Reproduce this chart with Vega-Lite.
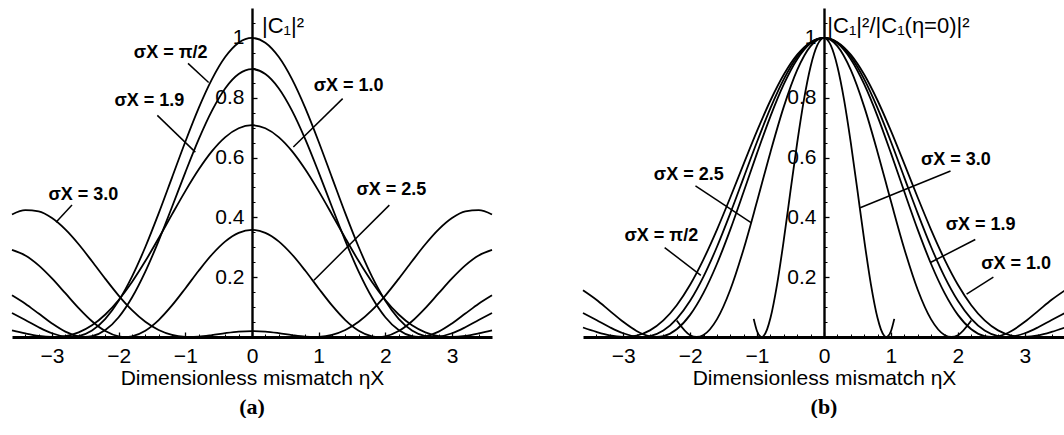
{
  "$schema": "https://vega.github.io/schema/vega-lite/v6.json",
  "background": "white",
  "padding": {"left": 8, "top": 8, "right": 0, "bottom": 0},
  "config": {
    "view": {"stroke": null},
    "font": "Liberation Sans",
    "axis": {"grid": false, "domainColor": "black", "tickColor": "black", "labelColor": "black", "titleColor": "black", "labelFont": "Liberation Sans", "titleFont": "Liberation Sans"}
  },
  "datasets": {
    "curvesA": [
      {"s":"1.0","e":-3.6,"p":0.0225},{"s":"1.0","e":-3.4,"p":0.0122},{"s":"1.0","e":-3.2,"p":0.0039},{"s":"1.0","e":-3.0,"p":0.00004},{"s":"1.0","e":-2.978,"p":0},{"s":"1.0","e":-2.8,"p":0.0032},{"s":"1.0","e":-2.6,"p":0.0157},{"s":"1.0","e":-2.4,"p":0.0393},{"s":"1.0","e":-2.2,"p":0.0753},{"s":"1.0","e":-2.0,"p":0.1238},{"s":"1.0","e":-1.8,"p":0.1839},{"s":"1.0","e":-1.6,"p":0.2538},{"s":"1.0","e":-1.4,"p":0.3303},{"s":"1.0","e":-1.2,"p":0.4098},{"s":"1.0","e":-1.0,"p":0.4878},{"s":"1.0","e":-0.8,"p":0.5598},{"s":"1.0","e":-0.6,"p":0.6214},{"s":"1.0","e":-0.4,"p":0.6684},{"s":"1.0","e":-0.2,"p":0.6980},
      {"s":"1.0","e":0,"p":0.7081},
      {"s":"1.0","e":0.2,"p":0.6980},{"s":"1.0","e":0.4,"p":0.6684},{"s":"1.0","e":0.6,"p":0.6214},{"s":"1.0","e":0.8,"p":0.5598},{"s":"1.0","e":1.0,"p":0.4878},{"s":"1.0","e":1.2,"p":0.4098},{"s":"1.0","e":1.4,"p":0.3303},{"s":"1.0","e":1.6,"p":0.2538},{"s":"1.0","e":1.8,"p":0.1839},{"s":"1.0","e":2.0,"p":0.1238},{"s":"1.0","e":2.2,"p":0.0753},{"s":"1.0","e":2.4,"p":0.0393},{"s":"1.0","e":2.6,"p":0.0157},{"s":"1.0","e":2.8,"p":0.0032},{"s":"1.0","e":2.978,"p":0},{"s":"1.0","e":3.0,"p":0.00004},{"s":"1.0","e":3.2,"p":0.0039},{"s":"1.0","e":3.4,"p":0.0122},{"s":"1.0","e":3.6,"p":0.0225},

      {"s":"π/2","e":-3.6,"p":0.0801},{"s":"π/2","e":-3.4,"p":0.0567},{"s":"π/2","e":-3.2,"p":0.0327},{"s":"π/2","e":-3.0,"p":0.0126},{"s":"π/2","e":-2.8,"p":0.0011},{"s":"π/2","e":-2.721,"p":0},{"s":"π/2","e":-2.6,"p":0.0029},{"s":"π/2","e":-2.4,"p":0.0218},{"s":"π/2","e":-2.2,"p":0.0608},{"s":"π/2","e":-2.0,"p":0.1211},{"s":"π/2","e":-1.8,"p":0.2020},{"s":"π/2","e":-1.6,"p":0.3009},{"s":"π/2","e":-1.4,"p":0.4133},{"s":"π/2","e":-1.2,"p":0.5330},{"s":"π/2","e":-1.0,"p":0.6529},{"s":"π/2","e":-0.8,"p":0.7651},{"s":"π/2","e":-0.6,"p":0.8620},{"s":"π/2","e":-0.4,"p":0.9367},{"s":"π/2","e":-0.2,"p":0.9839},
      {"s":"π/2","e":0,"p":1.0},
      {"s":"π/2","e":0.2,"p":0.9839},{"s":"π/2","e":0.4,"p":0.9367},{"s":"π/2","e":0.6,"p":0.8620},{"s":"π/2","e":0.8,"p":0.7651},{"s":"π/2","e":1.0,"p":0.6529},{"s":"π/2","e":1.2,"p":0.5330},{"s":"π/2","e":1.4,"p":0.4133},{"s":"π/2","e":1.6,"p":0.3009},{"s":"π/2","e":1.8,"p":0.2020},{"s":"π/2","e":2.0,"p":0.1211},{"s":"π/2","e":2.2,"p":0.0608},{"s":"π/2","e":2.4,"p":0.0218},{"s":"π/2","e":2.6,"p":0.0029},{"s":"π/2","e":2.721,"p":0},{"s":"π/2","e":2.8,"p":0.0011},{"s":"π/2","e":3.0,"p":0.0126},{"s":"π/2","e":3.2,"p":0.0327},{"s":"π/2","e":3.4,"p":0.0567},{"s":"π/2","e":3.6,"p":0.0801},

      {"s":"1.9","e":-3.6,"p":0.1398},{"s":"1.9","e":-3.4,"p":0.1114},{"s":"1.9","e":-3.2,"p":0.0783},{"s":"1.9","e":-3.0,"p":0.0454},{"s":"1.9","e":-2.8,"p":0.0181},{"s":"1.9","e":-2.6,"p":0.0022},{"s":"1.9","e":-2.502,"p":0},{"s":"1.9","e":-2.4,"p":0.0025},{"s":"1.9","e":-2.2,"p":0.0231},{"s":"1.9","e":-2.0,"p":0.0662},{"s":"1.9","e":-1.8,"p":0.1321},{"s":"1.9","e":-1.6,"p":0.2186},{"s":"1.9","e":-1.4,"p":0.3216},{"s":"1.9","e":-1.2,"p":0.4347},{"s":"1.9","e":-1.0,"p":0.5506},{"s":"1.9","e":-0.8,"p":0.6608},{"s":"1.9","e":-0.6,"p":0.7570},{"s":"1.9","e":-0.4,"p":0.8318},{"s":"1.9","e":-0.2,"p":0.8792},
      {"s":"1.9","e":0,"p":0.8955},
      {"s":"1.9","e":0.2,"p":0.8792},{"s":"1.9","e":0.4,"p":0.8318},{"s":"1.9","e":0.6,"p":0.7570},{"s":"1.9","e":0.8,"p":0.6608},{"s":"1.9","e":1.0,"p":0.5506},{"s":"1.9","e":1.2,"p":0.4347},{"s":"1.9","e":1.4,"p":0.3216},{"s":"1.9","e":1.6,"p":0.2186},{"s":"1.9","e":1.8,"p":0.1321},{"s":"1.9","e":2.0,"p":0.0662},{"s":"1.9","e":2.2,"p":0.0231},{"s":"1.9","e":2.4,"p":0.0025},{"s":"1.9","e":2.502,"p":0},{"s":"1.9","e":2.6,"p":0.0022},{"s":"1.9","e":2.8,"p":0.0181},{"s":"1.9","e":3.0,"p":0.0454},{"s":"1.9","e":3.2,"p":0.0783},{"s":"1.9","e":3.4,"p":0.1114},{"s":"1.9","e":3.6,"p":0.1398},

      {"s":"2.5","e":-3.6,"p":0.2913},{"s":"2.5","e":-3.4,"p":0.2726},{"s":"2.5","e":-3.2,"p":0.2396},{"s":"2.5","e":-3.0,"p":0.1960},{"s":"2.5","e":-2.8,"p":0.1464},{"s":"2.5","e":-2.6,"p":0.0967},{"s":"2.5","e":-2.4,"p":0.0527},{"s":"2.5","e":-2.2,"p":0.0198},{"s":"2.5","e":-2.0,"p":0.0022},{"s":"2.5","e":-1.903,"p":0},{"s":"2.5","e":-1.8,"p":0.0024},{"s":"2.5","e":-1.6,"p":0.0211},{"s":"2.5","e":-1.4,"p":0.0566},{"s":"2.5","e":-1.2,"p":0.1055},{"s":"2.5","e":-1.0,"p":0.1624},{"s":"2.5","e":-0.8,"p":0.2214},{"s":"2.5","e":-0.6,"p":0.2759},{"s":"2.5","e":-0.4,"p":0.3198},{"s":"2.5","e":-0.2,"p":0.3483},
      {"s":"2.5","e":0,"p":0.3582},
      {"s":"2.5","e":0.2,"p":0.3483},{"s":"2.5","e":0.4,"p":0.3198},{"s":"2.5","e":0.6,"p":0.2759},{"s":"2.5","e":0.8,"p":0.2214},{"s":"2.5","e":1.0,"p":0.1624},{"s":"2.5","e":1.2,"p":0.1055},{"s":"2.5","e":1.4,"p":0.0566},{"s":"2.5","e":1.6,"p":0.0211},{"s":"2.5","e":1.8,"p":0.0024},{"s":"2.5","e":1.903,"p":0},{"s":"2.5","e":2.0,"p":0.0022},{"s":"2.5","e":2.2,"p":0.0198},{"s":"2.5","e":2.4,"p":0.0527},{"s":"2.5","e":2.6,"p":0.0967},{"s":"2.5","e":2.8,"p":0.1464},{"s":"2.5","e":3.0,"p":0.1960},{"s":"2.5","e":3.2,"p":0.2396},{"s":"2.5","e":3.4,"p":0.2726},{"s":"2.5","e":3.6,"p":0.2913},

      {"s":"3.0","e":-3.6,"p":0.4096},{"s":"3.0","e":-3.4,"p":0.4240},{"s":"3.0","e":-3.2,"p":0.4198},{"s":"3.0","e":-3.0,"p":0.3976},{"s":"3.0","e":-2.8,"p":0.3597},{"s":"3.0","e":-2.6,"p":0.3100},{"s":"3.0","e":-2.4,"p":0.2532},{"s":"3.0","e":-2.2,"p":0.1945},{"s":"3.0","e":-2.0,"p":0.1386},{"s":"3.0","e":-1.8,"p":0.0898},{"s":"3.0","e":-1.6,"p":0.0508},{"s":"3.0","e":-1.4,"p":0.0232},{"s":"3.0","e":-1.2,"p":0.0069},{"s":"3.0","e":-1.0,"p":0.0004},{"s":"3.0","e":-0.933,"p":0},{"s":"3.0","e":-0.8,"p":0.0013},{"s":"3.0","e":-0.6,"p":0.0065},{"s":"3.0","e":-0.4,"p":0.0129},{"s":"3.0","e":-0.2,"p":0.0180},
      {"s":"3.0","e":0,"p":0.0199},
      {"s":"3.0","e":0.2,"p":0.0180},{"s":"3.0","e":0.4,"p":0.0129},{"s":"3.0","e":0.6,"p":0.0065},{"s":"3.0","e":0.8,"p":0.0013},{"s":"3.0","e":0.933,"p":0},{"s":"3.0","e":1.0,"p":0.0004},{"s":"3.0","e":1.2,"p":0.0069},{"s":"3.0","e":1.4,"p":0.0232},{"s":"3.0","e":1.6,"p":0.0508},{"s":"3.0","e":1.8,"p":0.0898},{"s":"3.0","e":2.0,"p":0.1386},{"s":"3.0","e":2.2,"p":0.1945},{"s":"3.0","e":2.4,"p":0.2532},{"s":"3.0","e":2.6,"p":0.3100},{"s":"3.0","e":2.8,"p":0.3597},{"s":"3.0","e":3.0,"p":0.3976},{"s":"3.0","e":3.2,"p":0.4198},{"s":"3.0","e":3.4,"p":0.4240},{"s":"3.0","e":3.6,"p":0.4096}
    ],
    "curvesB": [
      {"s":"1.0","e":-3.6,"p":0.0318},{"s":"1.0","e":-3.4,"p":0.0172},{"s":"1.0","e":-3.2,"p":0.0055},{"s":"1.0","e":-3.0,"p":0.0001},{"s":"1.0","e":-2.978,"p":0},{"s":"1.0","e":-2.8,"p":0.0045},{"s":"1.0","e":-2.6,"p":0.0221},{"s":"1.0","e":-2.4,"p":0.0555},{"s":"1.0","e":-2.2,"p":0.1064},{"s":"1.0","e":-2.0,"p":0.1748},{"s":"1.0","e":-1.8,"p":0.2598},{"s":"1.0","e":-1.6,"p":0.3584},{"s":"1.0","e":-1.4,"p":0.4665},{"s":"1.0","e":-1.2,"p":0.5788},{"s":"1.0","e":-1.0,"p":0.6890},{"s":"1.0","e":-0.8,"p":0.7907},{"s":"1.0","e":-0.6,"p":0.8775},{"s":"1.0","e":-0.4,"p":0.9440},{"s":"1.0","e":-0.2,"p":0.9858},
      {"s":"1.0","e":0,"p":1.0},
      {"s":"1.0","e":0.2,"p":0.9858},{"s":"1.0","e":0.4,"p":0.9440},{"s":"1.0","e":0.6,"p":0.8775},{"s":"1.0","e":0.8,"p":0.7907},{"s":"1.0","e":1.0,"p":0.6890},{"s":"1.0","e":1.2,"p":0.5788},{"s":"1.0","e":1.4,"p":0.4665},{"s":"1.0","e":1.6,"p":0.3584},{"s":"1.0","e":1.8,"p":0.2598},{"s":"1.0","e":2.0,"p":0.1748},{"s":"1.0","e":2.2,"p":0.1064},{"s":"1.0","e":2.4,"p":0.0555},{"s":"1.0","e":2.6,"p":0.0221},{"s":"1.0","e":2.8,"p":0.0045},{"s":"1.0","e":2.978,"p":0},{"s":"1.0","e":3.0,"p":0.0001},{"s":"1.0","e":3.2,"p":0.0055},{"s":"1.0","e":3.4,"p":0.0172},{"s":"1.0","e":3.6,"p":0.0318},

      {"s":"π/2","e":-3.6,"p":0.0801},{"s":"π/2","e":-3.4,"p":0.0567},{"s":"π/2","e":-3.2,"p":0.0327},{"s":"π/2","e":-3.0,"p":0.0126},{"s":"π/2","e":-2.8,"p":0.0011},{"s":"π/2","e":-2.721,"p":0},{"s":"π/2","e":-2.6,"p":0.0029},{"s":"π/2","e":-2.4,"p":0.0218},{"s":"π/2","e":-2.2,"p":0.0608},{"s":"π/2","e":-2.0,"p":0.1211},{"s":"π/2","e":-1.8,"p":0.2020},{"s":"π/2","e":-1.6,"p":0.3009},{"s":"π/2","e":-1.4,"p":0.4133},{"s":"π/2","e":-1.2,"p":0.5330},{"s":"π/2","e":-1.0,"p":0.6529},{"s":"π/2","e":-0.8,"p":0.7651},{"s":"π/2","e":-0.6,"p":0.8620},{"s":"π/2","e":-0.4,"p":0.9367},{"s":"π/2","e":-0.2,"p":0.9839},
      {"s":"π/2","e":0,"p":1.0},
      {"s":"π/2","e":0.2,"p":0.9839},{"s":"π/2","e":0.4,"p":0.9367},{"s":"π/2","e":0.6,"p":0.8620},{"s":"π/2","e":0.8,"p":0.7651},{"s":"π/2","e":1.0,"p":0.6529},{"s":"π/2","e":1.2,"p":0.5330},{"s":"π/2","e":1.4,"p":0.4133},{"s":"π/2","e":1.6,"p":0.3009},{"s":"π/2","e":1.8,"p":0.2020},{"s":"π/2","e":2.0,"p":0.1211},{"s":"π/2","e":2.2,"p":0.0608},{"s":"π/2","e":2.4,"p":0.0218},{"s":"π/2","e":2.6,"p":0.0029},{"s":"π/2","e":2.721,"p":0},{"s":"π/2","e":2.8,"p":0.0011},{"s":"π/2","e":3.0,"p":0.0126},{"s":"π/2","e":3.2,"p":0.0327},{"s":"π/2","e":3.4,"p":0.0567},{"s":"π/2","e":3.6,"p":0.0801},

      {"s":"1.9","e":-3.6,"p":0.1561},{"s":"1.9","e":-3.4,"p":0.1244},{"s":"1.9","e":-3.2,"p":0.0874},{"s":"1.9","e":-3.0,"p":0.0507},{"s":"1.9","e":-2.8,"p":0.0203},{"s":"1.9","e":-2.6,"p":0.0024},{"s":"1.9","e":-2.502,"p":0},{"s":"1.9","e":-2.4,"p":0.0028},{"s":"1.9","e":-2.2,"p":0.0258},{"s":"1.9","e":-2.0,"p":0.0740},{"s":"1.9","e":-1.8,"p":0.1475},{"s":"1.9","e":-1.6,"p":0.2441},{"s":"1.9","e":-1.4,"p":0.3591},{"s":"1.9","e":-1.2,"p":0.4855},{"s":"1.9","e":-1.0,"p":0.6148},{"s":"1.9","e":-0.8,"p":0.7379},{"s":"1.9","e":-0.6,"p":0.8453},{"s":"1.9","e":-0.4,"p":0.9289},{"s":"1.9","e":-0.2,"p":0.9819},
      {"s":"1.9","e":0,"p":1.0},
      {"s":"1.9","e":0.2,"p":0.9819},{"s":"1.9","e":0.4,"p":0.9289},{"s":"1.9","e":0.6,"p":0.8453},{"s":"1.9","e":0.8,"p":0.7379},{"s":"1.9","e":1.0,"p":0.6148},{"s":"1.9","e":1.2,"p":0.4855},{"s":"1.9","e":1.4,"p":0.3591},{"s":"1.9","e":1.6,"p":0.2441},{"s":"1.9","e":1.8,"p":0.1475},{"s":"1.9","e":2.0,"p":0.0740},{"s":"1.9","e":2.2,"p":0.0258},{"s":"1.9","e":2.4,"p":0.0028},{"s":"1.9","e":2.502,"p":0},{"s":"1.9","e":2.6,"p":0.0024},{"s":"1.9","e":2.8,"p":0.0203},{"s":"1.9","e":3.0,"p":0.0507},{"s":"1.9","e":3.2,"p":0.0874},{"s":"1.9","e":3.4,"p":0.1244},{"s":"1.9","e":3.6,"p":0.1561},

      {"s":"2.5","e":-2.2,"p":0.0553},{"s":"2.5","e":-2.0,"p":0.0061},{"s":"2.5","e":-1.903,"p":0},{"s":"2.5","e":-1.8,"p":0.0068},{"s":"2.5","e":-1.6,"p":0.0590},{"s":"2.5","e":-1.4,"p":0.1581},{"s":"2.5","e":-1.2,"p":0.2944},{"s":"2.5","e":-1.0,"p":0.4535},{"s":"2.5","e":-0.8,"p":0.6181},{"s":"2.5","e":-0.6,"p":0.7702},{"s":"2.5","e":-0.4,"p":0.8929},{"s":"2.5","e":-0.2,"p":0.9724},
      {"s":"2.5","e":0,"p":1.0},
      {"s":"2.5","e":0.2,"p":0.9724},{"s":"2.5","e":0.4,"p":0.8929},{"s":"2.5","e":0.6,"p":0.7702},{"s":"2.5","e":0.8,"p":0.6181},{"s":"2.5","e":1.0,"p":0.4535},{"s":"2.5","e":1.2,"p":0.2944},{"s":"2.5","e":1.4,"p":0.1581},{"s":"2.5","e":1.6,"p":0.0590},{"s":"2.5","e":1.8,"p":0.0068},{"s":"2.5","e":1.903,"p":0},{"s":"2.5","e":2.0,"p":0.0061},{"s":"2.5","e":2.2,"p":0.0553},

      {"s":"3.0","e":-1.05,"p":0.0606},{"s":"3.0","e":-1.0,"p":0.0193},{"s":"3.0","e":-0.95,"p":0.0013},{"s":"3.0","e":-0.933,"p":0},{"s":"3.0","e":-0.9,"p":0.0042},{"s":"3.0","e":-0.85,"p":0.0257},{"s":"3.0","e":-0.8,"p":0.0633},{"s":"3.0","e":-0.7,"p":0.1770},{"s":"3.0","e":-0.6,"p":0.3254},{"s":"3.0","e":-0.5,"p":0.4890},{"s":"3.0","e":-0.4,"p":0.6501},{"s":"3.0","e":-0.3,"p":0.7930},{"s":"3.0","e":-0.2,"p":0.9047},{"s":"3.0","e":-0.1,"p":0.9757},
      {"s":"3.0","e":0,"p":1.0},
      {"s":"3.0","e":0.1,"p":0.9757},{"s":"3.0","e":0.2,"p":0.9047},{"s":"3.0","e":0.3,"p":0.7930},{"s":"3.0","e":0.4,"p":0.6501},{"s":"3.0","e":0.5,"p":0.4890},{"s":"3.0","e":0.6,"p":0.3254},{"s":"3.0","e":0.7,"p":0.1770},{"s":"3.0","e":0.8,"p":0.0633},{"s":"3.0","e":0.85,"p":0.0257},{"s":"3.0","e":0.9,"p":0.0042},{"s":"3.0","e":0.933,"p":0},{"s":"3.0","e":0.95,"p":0.0013},{"s":"3.0","e":1.0,"p":0.0193},{"s":"3.0","e":1.05,"p":0.0606}
    ],
    "notesA": [
      {"lab":"σX = π/2","tx":-1.22,"ty":0.95,"x1":-0.96,"y1":0.915,"x2":-0.65,"y2":0.851},
      {"lab":"σX = 1.9","tx":-1.54,"ty":0.79,"x1":-1.42,"y1":0.741,"x2":-0.85,"y2":0.618},
      {"lab":"σX = 1.0","tx":1.45,"ty":0.84,"x1":1.36,"y1":0.797,"x2":0.62,"y2":0.635},
      {"lab":"σX = 3.0","tx":-2.53,"ty":0.474,"x1":-2.7,"y1":0.441,"x2":-2.94,"y2":0.384},
      {"lab":"σX = 2.5","tx":2.09,"ty":0.491,"x1":2.06,"y1":0.441,"x2":0.93,"y2":0.19}
    ],
    "notesB": [
      {"lab":"σX = 2.5","tx":-2.02,"ty":0.542,"x1":-1.92,"y1":0.505,"x2":-1.09,"y2":0.382},
      {"lab":"σX = π/2","tx":-2.43,"ty":0.339,"x1":-2.38,"y1":0.299,"x2":-1.84,"y2":0.206},
      {"lab":"σX = 3.0","tx":1.97,"ty":0.592,"x1":1.89,"y1":0.555,"x2":0.54,"y2":0.432},
      {"lab":"σX = 1.9","tx":2.34,"ty":0.376,"x1":2.26,"y1":0.326,"x2":1.59,"y2":0.249},
      {"lab":"σX = 1.0","tx":2.87,"ty":0.243,"x1":2.53,"y1":0.2,"x2":2.13,"y2":0.143}
    ]
  },
  "spacing": 83,
  "hconcat": [
    {
      "width": 480,
      "height": 329,
      "title": {"text": "(a)", "orient": "bottom", "font": "Liberation Serif", "fontSize": 22, "fontWeight": "bold", "color": "black", "offset": 9},
      "resolve": {"axis": {"x": "independent", "y": "independent"}},
      "layer": [
        {
          "data": {"name": "curvesA"},
          "mark": {"type": "line", "interpolate": "monotone", "color": "black", "strokeWidth": 1.8},
          "encoding": {
            "x": {"field": "e", "type": "quantitative", "scale": {"domain": [-3.6, 3.6], "nice": false, "zero": false},
                  "axis": {"orient": "bottom", "values": [-3, -2, -1, 0, 1, 2, 3], "format": "d", "ticks": false, "tickSize": 0, "domainWidth": 3, "labelFontSize": 21, "labelPadding": 8, "labelFlush": false, "labelOverlap": false, "title": "Dimensionless mismatch ηX", "titleFontSize": 21, "titleFontWeight": "normal", "titlePadding": 1}},
            "y": {"field": "p", "type": "quantitative", "scale": {"domain": [0, 1.1], "nice": false},
                  "axis": {"orient": "left", "offset": -240, "values": [0.2, 0.4, 0.6, 0.8, 1], "format": "~g", "ticks": false, "tickSize": 0, "domainWidth": 2.4, "labelFontSize": 21, "labelPadding": 8, "labelFlush": false, "labelOverlap": false, "title": null}},
            "detail": {"field": "s"}
          }
        },
        {
          "data": {"name": "notesA"},
          "mark": {"type": "rule", "color": "black", "strokeWidth": 1.5},
          "encoding": {
            "x": {"field": "x1", "type": "quantitative", "axis": {"orient": "top", "offset": -329, "values": [-3, -2, -1, 0, 1, 2, 3], "labels": false, "domain": false, "tickSize": 5, "tickWidth": 1.3, "title": null}},
            "y": {"field": "y1", "type": "quantitative", "axis": {"orient": "right", "offset": -240, "values": [0.2, 0.4, 0.6, 0.8, 1], "labels": false, "domain": false, "tickSize": 5, "tickWidth": 1.3, "title": null}},
            "x2": {"field": "x2"},
            "y2": {"field": "y2"}
          }
        },
        {
          "data": {"name": "notesA"},
          "mark": {"type": "text", "font": "Liberation Sans", "fontWeight": "bold", "fontSize": 18, "color": "black", "align": "center", "baseline": "middle"},
          "encoding": {
            "x": {"field": "tx", "type": "quantitative", "axis": {"orient": "top", "offset": -329, "values": [-3.4, -3.2, -2.8, -2.6, -2.4, -2.2, -1.8, -1.6, -1.4, -1.2, -0.8, -0.6, -0.4, -0.2, 0.2, 0.4, 0.6, 0.8, 1.2, 1.4, 1.6, 1.8, 2.2, 2.4, 2.6, 2.8, 3.2, 3.4], "labels": false, "domain": false, "tickSize": 3, "tickWidth": 1, "title": null}},
            "y": {"field": "ty", "type": "quantitative", "axis": {"orient": "right", "offset": -240, "values": [0.05, 0.1, 0.15, 0.25, 0.3, 0.35, 0.45, 0.5, 0.55, 0.65, 0.7, 0.75, 0.85, 0.9, 0.95, 1.05], "labels": false, "domain": false, "tickSize": 3, "tickWidth": 1, "title": null}},
            "text": {"field": "lab"}
          }
        },
        {
          "data": {"values": [{"tx": 0.15, "ty": 1.04, "lab": "|C₁|²"}]},
          "mark": {"type": "text", "font": "Liberation Sans", "fontSize": 22, "color": "black", "align": "left", "baseline": "middle"},
          "encoding": {
            "x": {"field": "tx", "type": "quantitative", "axis": null},
            "y": {"field": "ty", "type": "quantitative", "axis": null},
            "text": {"field": "lab"}
          }
        }
      ]
    },
    {
      "width": 482,
      "height": 329,
      "title": {"text": "(b)", "orient": "bottom", "font": "Liberation Serif", "fontSize": 22, "fontWeight": "bold", "color": "black", "offset": 9},
      "resolve": {"axis": {"x": "independent", "y": "independent"}},
      "layer": [
        {
          "data": {"name": "curvesB"},
          "mark": {"type": "line", "interpolate": "monotone", "color": "black", "strokeWidth": 1.8},
          "encoding": {
            "x": {"field": "e", "type": "quantitative", "scale": {"domain": [-3.6, 3.6], "nice": false, "zero": false},
                  "axis": {"orient": "bottom", "values": [-3, -2, -1, 0, 1, 2, 3], "format": "d", "ticks": false, "tickSize": 0, "domainWidth": 3, "labelFontSize": 21, "labelPadding": 8, "labelFlush": false, "labelOverlap": false, "title": "Dimensionless mismatch ηX", "titleFontSize": 21, "titleFontWeight": "normal", "titlePadding": 1}},
            "y": {"field": "p", "type": "quantitative", "scale": {"domain": [0, 1.1], "nice": false},
                  "axis": {"orient": "left", "offset": -241, "values": [0.2, 0.4, 0.6, 0.8, 1], "format": "~g", "ticks": false, "tickSize": 0, "domainWidth": 2.4, "labelFontSize": 21, "labelPadding": 8, "labelFlush": false, "labelOverlap": false, "title": null}},
            "detail": {"field": "s"}
          }
        },
        {
          "data": {"name": "notesB"},
          "mark": {"type": "rule", "color": "black", "strokeWidth": 1.5},
          "encoding": {
            "x": {"field": "x1", "type": "quantitative", "axis": {"orient": "top", "offset": -329, "values": [-3, -2, -1, 0, 1, 2, 3], "labels": false, "domain": false, "tickSize": 5, "tickWidth": 1.3, "title": null}},
            "y": {"field": "y1", "type": "quantitative", "axis": {"orient": "right", "offset": -241, "values": [0.2, 0.4, 0.6, 0.8, 1], "labels": false, "domain": false, "tickSize": 5, "tickWidth": 1.3, "title": null}},
            "x2": {"field": "x2"},
            "y2": {"field": "y2"}
          }
        },
        {
          "data": {"name": "notesB"},
          "mark": {"type": "text", "font": "Liberation Sans", "fontWeight": "bold", "fontSize": 18, "color": "black", "align": "center", "baseline": "middle"},
          "encoding": {
            "x": {"field": "tx", "type": "quantitative", "axis": {"orient": "top", "offset": -329, "values": [-3.4, -3.2, -2.8, -2.6, -2.4, -2.2, -1.8, -1.6, -1.4, -1.2, -0.8, -0.6, -0.4, -0.2, 0.2, 0.4, 0.6, 0.8, 1.2, 1.4, 1.6, 1.8, 2.2, 2.4, 2.6, 2.8, 3.2, 3.4], "labels": false, "domain": false, "tickSize": 3, "tickWidth": 1, "title": null}},
            "y": {"field": "ty", "type": "quantitative", "axis": {"orient": "right", "offset": -241, "values": [0.05, 0.1, 0.15, 0.25, 0.3, 0.35, 0.45, 0.5, 0.55, 0.65, 0.7, 0.75, 0.85, 0.9, 0.95, 1.05], "labels": false, "domain": false, "tickSize": 3, "tickWidth": 1, "title": null}},
            "text": {"field": "lab"}
          }
        },
        {
          "data": {"values": [{"tx": 0.05, "ty": 1.04, "lab": "|C₁|²/|C₁(η=0)|²"}]},
          "mark": {"type": "text", "font": "Liberation Sans", "fontSize": 22, "color": "black", "align": "left", "baseline": "middle"},
          "encoding": {
            "x": {"field": "tx", "type": "quantitative", "axis": null},
            "y": {"field": "ty", "type": "quantitative", "axis": null},
            "text": {"field": "lab"}
          }
        }
      ]
    }
  ]
}
